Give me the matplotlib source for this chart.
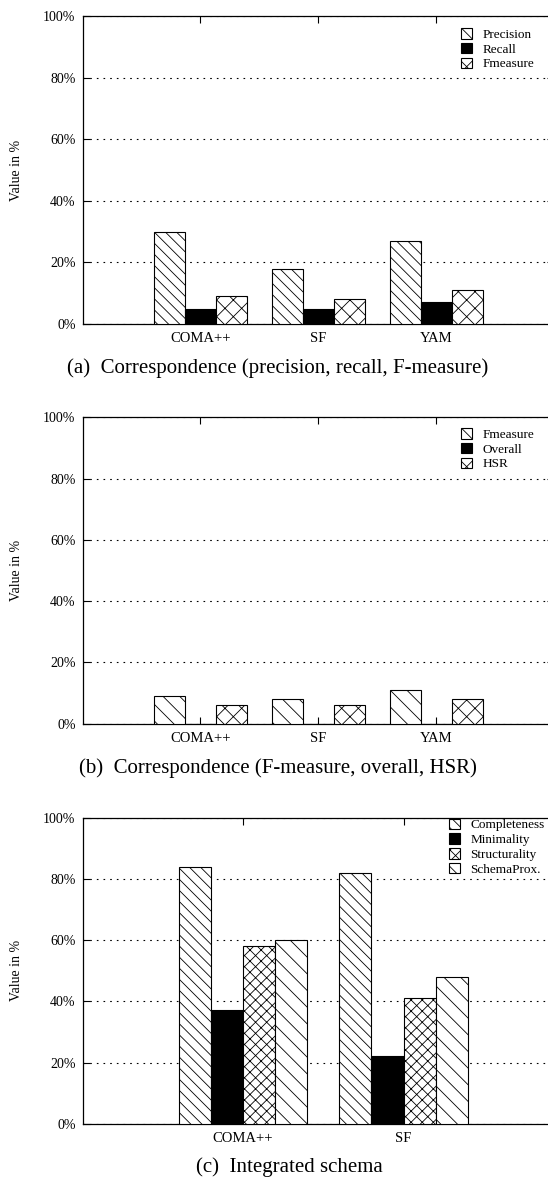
import matplotlib
matplotlib.use("Agg")
import matplotlib.pyplot as plt
import numpy as np

plt.rcParams['font.family'] = ['Liberation Serif', 'DejaVu Serif']
plt.rcParams['hatch.linewidth'] = 0.6

# ---- data ----
cats_a = ["COMA++", "SF", "YAM"]
series_a = ["Precision", "Recall", "Fmeasure"]
precision_a = [30, 18, 27]
recall_a = [5, 5, 7]
fmeasure_a = [9, 8, 11]

cats_b = ["COMA++", "SF", "YAM"]
series_b = ["Fmeasure", "Overall", "HSR"]
fmeasure_b = [9, 8, 11]
overall_b = [0, 0, 0]
hsr_b = [6, 6, 8]

cats_c = ["COMA++", "SF"]
series_c = ["Completeness", "Minimality", "Structurality", "SchemaProx."]
completeness_c = [84, 82]
minimality_c = [37, 22]
structurality_c = [58, 41]
schemaprox_c = [60, 48]

yticks = [0, 20, 40, 60, 80, 100]
ytick_labels = ["0%", "20%", "40%", "60%", "80%", "100%"]

captions = ["(a)  Correspondence (precision, recall, F-measure)",
            "(b)  Correspondence (F-measure, overall, HSR)",
            "(c)  Integrated schema"]

W, H = 548, 1178
fig = plt.figure(figsize=(W / 100, H / 100), dpi=100)


def rect(l, t, r, b):
    return [l / W, 1 - b / H, (r - l) / W, (b - t) / H]


styles = {
    "Precision": dict(facecolor="white", hatch="\\\\\\"),
    "Completeness": dict(facecolor="white", hatch="\\\\\\"),
    "Fmeasure_a": dict(facecolor="white", hatch="xx"),
    "Fmeasure_b": dict(facecolor="white", hatch="\\\\"),
    "Recall": dict(facecolor="black", hatch=None),
    "Minimality": dict(facecolor="black", hatch=None),
    "Overall": dict(facecolor="black", hatch=None),
    "HSR": dict(facecolor="white", hatch="xx"),
    "Structurality": dict(facecolor="white", hatch="xxx"),
    "SchemaProx.": dict(facecolor="white", hatch="\\\\"),
}


def panel(top, bottom, right_px, cats, names, data, style_keys, width, xlim,
          legend_xy, caption, cap_xy):
    ax = fig.add_axes(rect(82.5, top, right_px, bottom))
    x = np.arange(1, len(cats) + 1)
    n = len(names)
    for i, (nm, vals, sk) in enumerate(zip(names, data, style_keys)):
        off = (i - (n - 1) / 2) * width
        st = styles[sk]
        ax.bar(x + off, vals, width, facecolor=st["facecolor"], hatch=st["hatch"],
               edgecolor="black", linewidth=0.8, label=nm, zorder=3)
    ax.set_xlim(*xlim)
    ax.set_ylim(0, 100)
    ax.set_yticks(yticks)
    ax.set_yticklabels(ytick_labels, fontsize=10)
    ax.set_xticks(x)
    ax.set_xticklabels(cats, fontsize=10.5)
    ax.tick_params(axis="both", direction="in", length=5, width=0.8,
                   top=True, right=True, pad=5)
    ax.tick_params(axis="x", pad=6)
    ax.yaxis.grid(True, linestyle=(0, (1.5, 4.5)), color="black", linewidth=0.8)
    ax.set_axisbelow(True)
    for s in ax.spines.values():
        s.set_linewidth(0.9)
    ax.set_ylabel("Value in %", fontsize=10)
    ax.yaxis.set_label_coords((23 - 82.5) / (right_px - 82.5), 0.5)
    lx, ly = legend_xy
    ax.legend(loc="upper left", bbox_to_anchor=(lx / W, 1 - ly / H),
              bbox_transform=fig.transFigure, frameon=False, fontsize=9.5,
              borderpad=0, borderaxespad=0, handlelength=0.85, handleheight=0.85,
              handletextpad=0.75, labelspacing=0.15)
    fig.text(cap_xy[0] / W, 1 - cap_xy[1] / H, caption, fontsize=15,
             ha="center", va="center")
    return ax


panel(16, 324, 554.5, cats_a, series_a, [precision_a, recall_a, fmeasure_a],
      ["Precision", "Recall", "Fmeasure_a"], 0.26, (0, 4),
      (461, 28), captions[0], (278, 368))

panel(417.5, 723.7, 554.5, cats_b, series_b, [fmeasure_b, overall_b, hsr_b],
      ["Fmeasure_b", "Overall", "HSR"], 0.26, (0, 4),
      (461, 428), captions[1], (278, 768))

panel(817.7, 1123.7, 564, cats_c, series_c,
      [completeness_c, minimality_c, structurality_c, schemaprox_c],
      ["Completeness", "Minimality", "Structurality", "SchemaProx."], 0.2, (0, 3),
      (449, 818.5), captions[2], (289, 1167))

fig.savefig("out.png", dpi=100)
